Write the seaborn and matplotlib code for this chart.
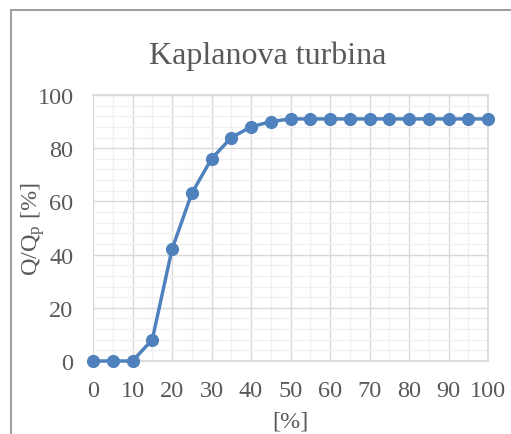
import matplotlib
matplotlib.use("Agg")
import matplotlib.pyplot as plt
import seaborn as sns
import pandas as pd
from matplotlib.ticker import MultipleLocator
from matplotlib.patches import Rectangle

x_vals = [0, 5, 10, 15, 20, 25, 30, 35, 40, 45, 50, 55, 60, 65, 70, 75, 80, 85, 90, 95, 100]
y_vals = [0, 0, 0, 8, 42, 63, 76, 84, 88, 90, 91, 91, 91, 91, 91, 91, 91, 91, 91, 91, 91]
title = "Kaplanova turbina"
xlabel = "[%]"
ylabel = "Q/Q$_\\mathrm{p}$ [%]"

df = pd.DataFrame({"x": x_vals, "y": y_vals})

sns.set_theme(style="white")
plt.rcParams["font.family"] = ["Liberation Serif", "DejaVu Serif"]
plt.rcParams["mathtext.fontset"] = "custom"
plt.rcParams["mathtext.rm"] = "Liberation Serif"
plt.rcParams["mathtext.it"] = "Liberation Serif:italic"

text_color = "#595959"
line_color = "#4F81BD"

fig = plt.figure(figsize=(5.11, 4.35), dpi=100)
ax = fig.add_axes([93 / 511, 1 - 362 / 435, (488 - 93) / 511, (362 - 96) / 435])

sns.lineplot(data=df, x="x", y="y", ax=ax, color=line_color, linewidth=2.5,
             marker="o", markersize=9.5, markeredgewidth=0, zorder=5, clip_on=False)

ax.set_xlim(0, 100)
ax.set_ylim(0, 100)
ax.xaxis.set_major_locator(MultipleLocator(10))
ax.xaxis.set_minor_locator(MultipleLocator(5))
ax.yaxis.set_major_locator(MultipleLocator(20))
ax.yaxis.set_minor_locator(MultipleLocator(4))
ax.grid(which="minor", color="#F0F0F0", linewidth=1.0, zorder=0)
ax.grid(which="major", color="#D9D9D9", linewidth=1.0, zorder=1)
ax.set_axisbelow(True)
for s in ax.spines.values():
    s.set_visible(True)
    s.set_color("#D9D9D9")
ax.spines["left"].set_visible(False)

ax.tick_params(which="both", length=0, labelsize=17.5, colors=text_color)
ax.tick_params(axis="y", pad=14)
ax.tick_params(axis="x", pad=14)
ax.set_xlabel(xlabel, fontsize=17.5, color=text_color)
ax.set_ylabel(ylabel, fontsize=17.5, color=text_color)
ax.xaxis.label.set_va("center")
ax.xaxis.set_label_coords(0.5, -(422 - 362) / 266)
ax.yaxis.label.set_va("center")
ax.yaxis.set_label_coords((33 - 93) / 395, 0.5)

fig.text(268 / 511, 1 - 56 / 435, title, fontsize=23, color=text_color,
         ha="center", va="center")

fig.patches.append(Rectangle((10.5 / 511, -0.1), 1.2, 1 - 11 / 435 + 0.1,
                             transform=fig.transFigure, fill=False,
                             edgecolor="#8C8C8C", linewidth=1.2))

fig.savefig("out.png", dpi=100)
